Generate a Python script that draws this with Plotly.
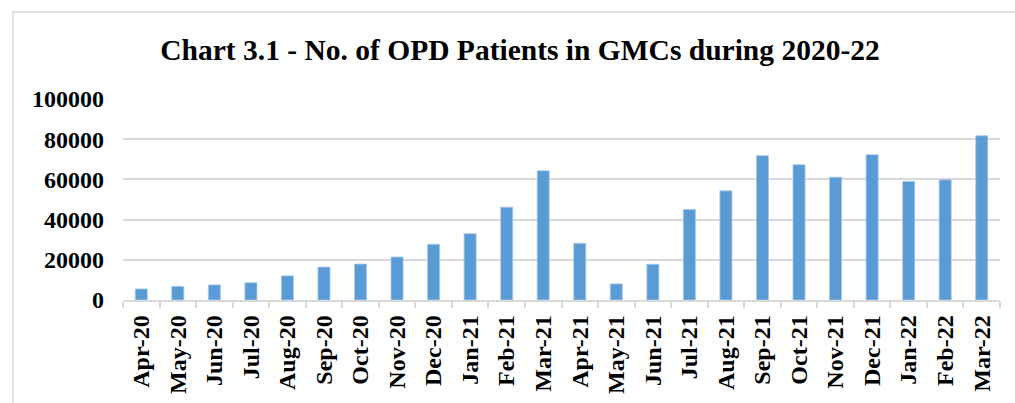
import plotly.graph_objects as go

months = ["Apr-20", "May-20", "Jun-20", "Jul-20", "Aug-20", "Sep-20", "Oct-20", "Nov-20",
          "Dec-20", "Jan-21", "Feb-21", "Mar-21", "Apr-21", "May-21", "Jun-21", "Jul-21",
          "Aug-21", "Sep-21", "Oct-21", "Nov-21", "Dec-21", "Jan-22", "Feb-22", "Mar-22"]
opd_patients = [5500, 6800, 7500, 8600, 12000, 16400, 17900, 21400,
                27700, 33000, 46200, 64300, 28200, 8000, 17800, 45000,
                54300, 71800, 67300, 61100, 72300, 59000, 59800, 81700]
y_ticks = [0, 20000, 40000, 60000, 80000, 100000]

W, H = 1015, 403
ML, MR, MT, MB = 123, 15, 99, 103
pw = W - ML - MR
ph = H - MT - MB

FONT = "Liberation Serif, Times New Roman, serif"

fig = go.Figure()
fig.add_trace(go.Bar(
    x=months, y=opd_patients,
    marker=dict(color="#5b9bd5", line=dict(color="#a8c8ea", width=0.8)),
    width=0.33,
))

# outer chart frame (light grey), extending beyond the visible window
fx0 = (13 - ML) / pw
fy1 = 1 + (MT - 12) / ph
fig.add_shape(type="rect", xref="paper", yref="paper",
              x0=fx0, x1=1.3, y0=-1.0, y1=fy1,
              line=dict(color="#d9d9d9", width=1.5), layer="below")

fig.update_layout(
    width=W, height=H,
    margin=dict(l=ML, r=MR, t=MT, b=MB, autoexpand=False),
    paper_bgcolor="white", plot_bgcolor="white",
    showlegend=False,
    title=dict(text="Chart 3.1 - No. of OPD Patients in GMCs during 2020-22",
               x=520 / W, xref="container", xanchor="center",
               y=1 - 50 / H, yref="container", yanchor="middle",
               font=dict(family=FONT, size=29.5, color="black", weight="bold"),
               automargin=False),
    xaxis=dict(
        type="category",
        automargin=False,
        tickangle=-90,
        tickfont=dict(family=FONT, size=24, color="black", weight="bold"),
        showline=True, linecolor="#d9d9d9", linewidth=1.5,
        ticks="outside", tickson="boundaries", ticklen=6,
        tickcolor="#d9d9d9", tickwidth=1.5,
        showgrid=False,
        ticklabelstandoff=4,
    ),
    yaxis=dict(
        automargin=False,
        range=[0, 100000],
        tickvals=y_ticks,
        ticktext=[str(v) for v in y_ticks],
        tickfont=dict(family=FONT, size=24, color="black", weight="bold"),
        showgrid=True, gridcolor="#d9d9d9", gridwidth=1.5,
        zeroline=False, showline=False, ticks="",
        ticklabelstandoff=18,
    ),
)

fig.write_html("out.html",
               config={"displayModeBar": False},
               post_script="document.body.style.margin='0';document.body.style.overflow='hidden';")
